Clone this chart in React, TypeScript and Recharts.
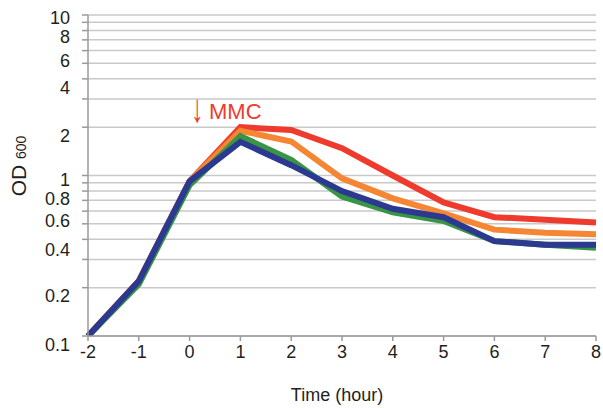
import React from "react";
import { LineChart, Line, XAxis, YAxis, CartesianGrid, Customized } from "recharts";

// hours relative to MMC addition
const hours = [-2, -1, 0, 1, 2, 3, 4, 5, 6, 7, 8];

// OD600 readings per strain
const redOD = [0.1, 0.22, 0.92, 2.0, 1.92, 1.48, 1.0, 0.68, 0.55, 0.53, 0.51];
const orangeOD = [0.1, 0.22, 0.92, 1.9, 1.63, 0.96, 0.72, 0.58, 0.46, 0.44, 0.43];
const greenOD = [0.1, 0.21, 0.87, 1.76, 1.25, 0.74, 0.59, 0.52, 0.39, 0.37, 0.355];
const blueOD = [0.1, 0.22, 0.92, 1.62, 1.16, 0.8, 0.62, 0.55, 0.39, 0.37, 0.37];

const yTicks = [0.1, 0.2, 0.3, 0.4, 0.5, 0.6, 0.7, 0.8, 0.9, 1, 2, 3, 4, 5, 6, 7, 8, 9, 10];
const yLabels = [0.1, 0.2, 0.4, 0.6, 0.8, 1, 2, 4, 6, 8, 10];
const xTicks = [-2, -1, 0, 1, 2, 3, 4, 5, 6, 7, 8];

// the original figure's labels sit a little below their grid lines
const labelNudge: Record<string, number> = {
  "10": 3, "8": 6, "6": 10, "4": 9, "2": 8, "1": 4,
  "0.8": 7.5, "0.6": 9.5, "0.4": 10, "0.2": 8, "0.1": 9,
};

const data = hours.map((h, i) => ({
  h,
  red: redOD[i],
  orange: orangeOD[i],
  green: greenOD[i],
  blue: blueOD[i],
}));

const FONT = "'Liberation Sans', Arial, sans-serif";
const TXT = "#231f20";

function YTick(props: any) {
  const { x, y, payload } = props;
  const v = Number(payload.value);
  if (!yLabels.some((l) => Math.abs(l - v) < 1e-9)) return null;
  const s = String(Math.round(v * 10) / 10);
  return (
    <text x={x - 10} y={y + (labelNudge[s] ?? 6)} dy="0.355em" textAnchor="end" fontSize={18} fontFamily={FONT} fill={TXT}>
      {s}
    </text>
  );
}

function Annotations() {
  return (
    <g fontFamily={FONT}>
      <text transform="translate(191,122) scale(1.2,1.9)" fontSize={21} fill="#ee3b2d">↓</text>
      <text x={209} y={119} fontSize={22} fill="#ee3b2d">MMC</text>
      <text transform="translate(26,166) rotate(-90)" textAnchor="middle" fill={TXT}>
        <tspan fontSize={21}>OD </tspan>
        <tspan fontSize={14}>600</tspan>
      </text>
      <text x={337} y={401} textAnchor="middle" fontSize={18} fill={TXT}>Time (hour)</text>
    </g>
  );
}

export default function App() {
  return (
    <div style={{ position: "absolute", left: 0, top: 0, background: "#fff" }}>
      <LineChart width={603} height={408} data={data} margin={{ top: 15, right: 7, bottom: 0, left: 0 }}>
        <CartesianGrid vertical={false} stroke="#c9c9c9" strokeWidth={1.5} />
        <XAxis
          dataKey="h"
          type="number"
          domain={[-2, 8]}
          ticks={xTicks}
          interval={0}
          height={72}
          tickSize={5}
          tickMargin={4}
          stroke="#9a9a9a"
          strokeWidth={1.5}
          tick={{ fontSize: 18, fill: TXT, fontFamily: FONT }}
        />
        <YAxis
          type="number"
          scale="log"
          domain={[0.1, 10]}
          allowDataOverflow
          ticks={yTicks}
          interval={0}
          width={88}
          tickSize={6}
          stroke="#9a9a9a"
          strokeWidth={1.5}
          tick={<YTick />}
        />
        <Line dataKey="red" stroke="#ee3b2d" strokeWidth={6} dot={false} isAnimationActive={false} />
        <Line dataKey="orange" stroke="#f58634" strokeWidth={6} dot={false} isAnimationActive={false} />
        <Line dataKey="green" stroke="#3a9445" strokeWidth={6} dot={false} isAnimationActive={false} />
        <Line dataKey="blue" stroke="#2b3990" strokeWidth={6} dot={false} isAnimationActive={false} />
        <Customized component={Annotations} />
      </LineChart>
    </div>
  );
}
